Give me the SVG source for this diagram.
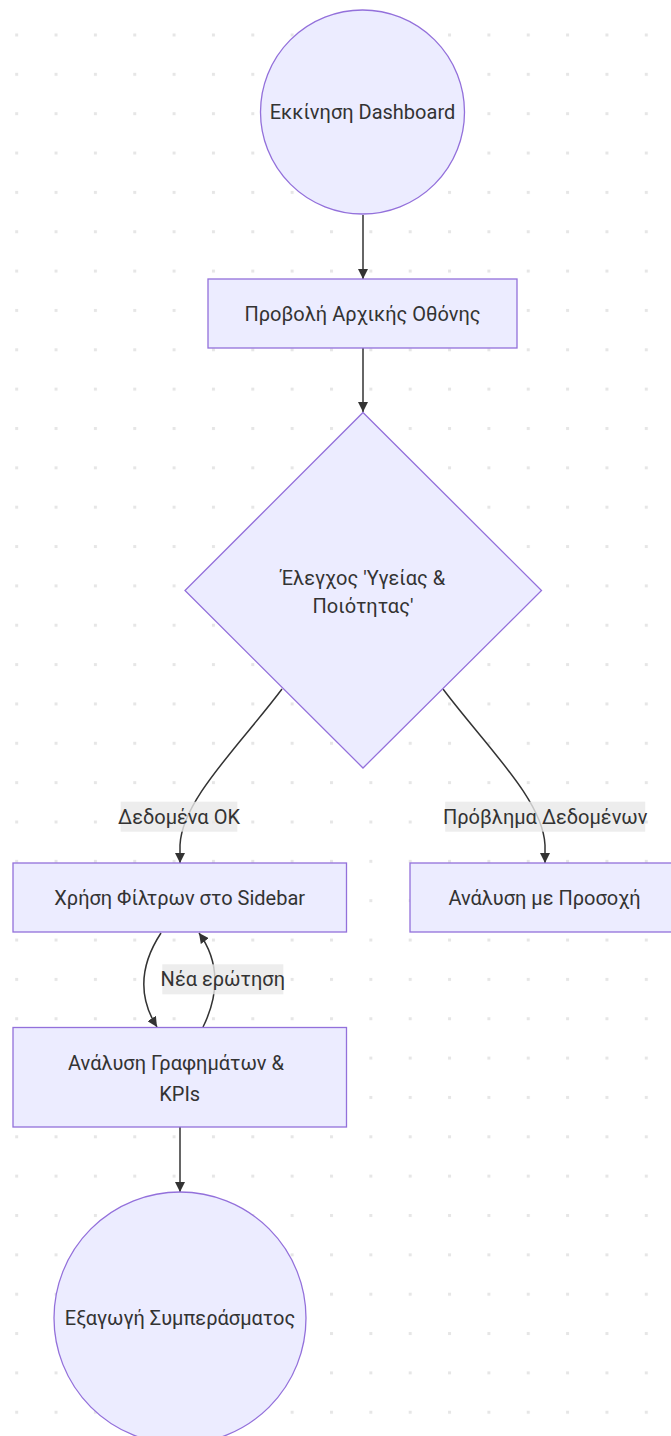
<svg xmlns="http://www.w3.org/2000/svg" width="671" height="1436" viewBox="0 0 671 1436">
<defs>
<pattern id="dots" patternUnits="userSpaceOnUse" x="15.2" y="33.5" width="39.35" height="39.35">
<rect x="0" y="0" width="3" height="3" fill="#e6e6e6"/>
</pattern>
<marker id="arrow" viewBox="0 0 10 10" refX="10" refY="5" markerWidth="10" markerHeight="10" markerUnits="userSpaceOnUse" orient="auto">
<path d="M0,0 L10,5 L0,10 z" fill="#333333"/>
</marker>
<style>
.node{fill:#ECECFF;stroke:#9370DB;stroke-width:1.3}
.t{font-family:Roboto,"DejaVu Sans",sans-serif;font-size:20px;fill:#333333;text-anchor:middle;dominant-baseline:central}
.edge{fill:none;stroke:#333333;stroke-width:1.5;marker-end:url(#arrow)}
.lbg{fill:#e8e8e8;opacity:0.8}
</style>
</defs>
<rect width="671" height="1436" fill="#ffffff"/>
<rect width="671" height="1436" fill="url(#dots)"/>
<g id="connectors">
<path class="edge" d="M363,215 L363,279"/>
<path class="edge" d="M363,348 L363,412"/>
<path class="edge" d="M282,689 C240,745 182,800 180,845 L180,863"/>
<path class="edge" d="M443,689 C485,745 543,800 545,845 L545,863"/>
<path class="edge" d="M161,933 C138,968 140,1000 157,1027"/>
<path class="edge" d="M203,1027 C219,995 220,962 199,933"/>
<path class="edge" d="M180,1127 L180,1192"/>
</g>
<g id="edge-labels">
<g id="label-ok"><rect class="lbg" x="120.7" y="801.7" width="116.6" height="30"/><text class="t" x="179" y="816.7">Δεδομένα OK</text></g>
<g id="label-problem"><rect class="lbg" x="445.2" y="801.7" width="200" height="30"/><text class="t" x="545.2" y="816.7">Πρόβλημα Δεδομένων</text></g>
<g id="label-new"><rect class="lbg" x="162.3" y="964.3" width="121" height="30"/><text class="t" x="222.8" y="979.3">Νέα ερώτηση</text></g>
</g>
<g id="start"><circle class="node" cx="362.5" cy="112" r="102"/><text class="t" x="362.5" y="112">Εκκίνηση Dashboard</text></g>
<g id="home"><rect class="node" x="208" y="279" width="309" height="69"/><text class="t" x="362.5" y="313.5">Προβολή Αρχικής Οθόνης</text></g>
<g id="check"><polygon class="node" points="363,412.5 541.5,590.5 363,768 185,590.5"/><text class="t" x="363" y="578">Έλεγχος 'Υγείας &amp;</text><text class="t" x="363" y="606">Ποιότητας'</text></g>
<g id="filters"><rect class="node" x="13" y="863" width="333.5" height="69"/><text class="t" x="179.7" y="897.5">Χρήση Φίλτρων στο Sidebar</text></g>
<g id="caution"><rect class="node" x="410" y="863" width="275" height="69"/><text class="t" x="544.5" y="897.5">Ανάλυση με Προσοχή</text></g>
<g id="charts"><rect class="node" x="13" y="1027.5" width="333.5" height="99.5"/><text class="t" x="176" y="1063">Ανάλυση Γραφημάτων &amp;</text><text class="t" x="179.7" y="1094">KPIs</text></g>
<g id="conclusion"><circle class="node" cx="180" cy="1318" r="126"/><text class="t" x="180" y="1318">Εξαγωγή Συμπεράσματος</text></g>
</svg>
